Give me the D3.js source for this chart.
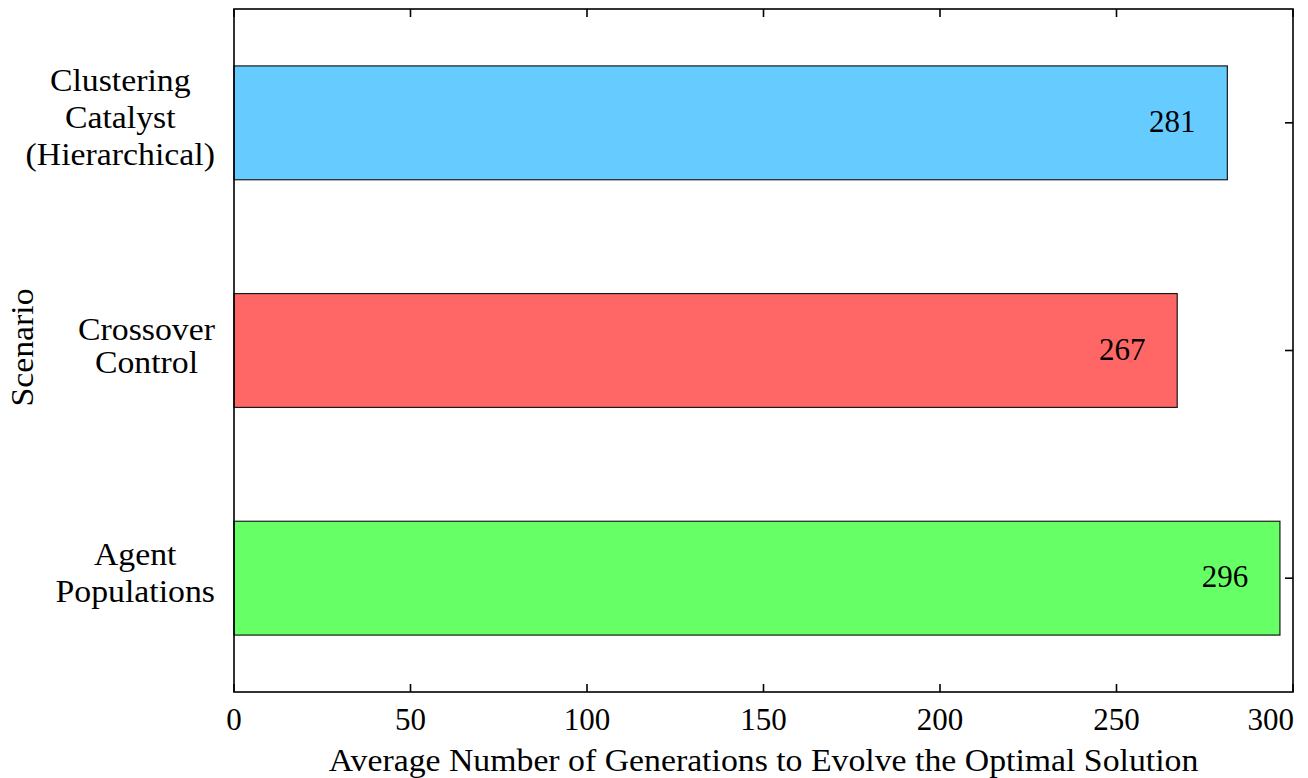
<!DOCTYPE html>
<html>
<head>
<meta charset="utf-8">
<script src="https://cdn.jsdelivr.net/npm/d3@7"></script>
<style>
  html, body { margin: 0; padding: 0; background: #fff; }
  svg text { font-family: "Liberation Serif", "DejaVu Serif", serif; fill: #000; }
</style>
</head>
<body>
<svg id="chart" width="1308" height="778"></svg>
<script>
// ---- data ----
const categories = [
  ["Clustering", "Catalyst", "(Hierarchical)"],
  ["Crossover", "Control"],
  ["Agent", "Populations"]
];
const values = [281.4, 267.2, 296.3];
const valueLabels = ["281", "267", "296"];
const barColors = ["#66ccff", "#ff6666", "#66ff66"];
const xTicks = [0, 50, 100, 150, 200, 250, 300];
const xTitle = "Average Number of Generations to Evolve the Optimal Solution";
const yTitle = "Scenario";

// ---- layout ----
const svg = d3.select("#chart");
const pLeft = 234, pRight = 1293, pTop = 9, pBottom = 692;
const fontSize = 31;
const stretch = 1.09; // widen serif words to match the reference typeface

const x = d3.scaleLinear().domain([0, 300]).range([pLeft, pRight]);
const y = d3.scaleBand().domain(d3.range(categories.length))
  .range([pTop, pBottom]).paddingInner(0.5).paddingOuter(0.25);

// bars
svg.append("g").selectAll("rect").data(values).join("rect")
  .attr("x", x(0))
  .attr("y", (d, i) => y(i))
  .attr("width", d => x(d) - x(0))
  .attr("height", y.bandwidth())
  .attr("fill", (d, i) => barColors[i])
  .attr("stroke", "#1a1a1a")
  .attr("stroke-width", 1.2);

// value labels
svg.append("g").selectAll("text").data(values).join("text")
  .attr("x", d => x(d) - 55)
  .attr("y", (d, i) => y(i) + y.bandwidth() / 2 + 9)
  .attr("text-anchor", "middle")
  .attr("font-size", fontSize)
  .text((d, i) => valueLabels[i]);

// frame
svg.append("rect")
  .attr("x", pLeft).attr("y", pTop)
  .attr("width", pRight - pLeft).attr("height", pBottom - pTop)
  .attr("fill", "none").attr("stroke", "#000").attr("stroke-width", 1.6);

// x ticks (top & bottom, inward)
const tickLen = 8;
const xt = svg.append("g");
xTicks.forEach(t => {
  xt.append("line").attr("x1", x(t)).attr("x2", x(t))
    .attr("y1", pBottom).attr("y2", pBottom - tickLen)
    .attr("stroke", "#000").attr("stroke-width", 1.6);
  xt.append("line").attr("x1", x(t)).attr("x2", x(t))
    .attr("y1", pTop).attr("y2", pTop + tickLen)
    .attr("stroke", "#000").attr("stroke-width", 1.6);
});
xt.selectAll("text").data(xTicks).join("text")
  .attr("x", (d, i) => i === xTicks.length - 1 ? x(d) + 1 : x(d))
  .attr("y", pBottom + 38)
  .attr("text-anchor", (d, i) => i === xTicks.length - 1 ? "end" : "middle")
  .attr("font-size", fontSize)
  .text(d => d);

// y ticks on right (inward)
svg.append("g").selectAll("line").data(values).join("line")
  .attr("x1", pRight).attr("x2", pRight - tickLen)
  .attr("y1", (d, i) => y(i) + y.bandwidth() / 2)
  .attr("y2", (d, i) => y(i) + y.bandwidth() / 2)
  .attr("stroke", "#000").attr("stroke-width", 1.6);

// category labels (multi-line, block right-aligned, lines centered)
const catG = svg.append("g");
categories.forEach((lines, i) => {
  const cy = y(i) + y.bandwidth() / 2;
  // line gap depends on descenders of the upper line (LaTeX shortstack-like)
  const gaps = lines.slice(1).map((l, k) => /[gjpqy()]/.test(lines[k]) ? 37 : 33);
  const span = d3.sum(gaps);
  let by = cy - span / 2 + 5.5;
  const texts = lines.map((l, k) => {
    const t = catG.append("text")
      .attr("text-anchor", "middle")
      .attr("font-size", fontSize)
      .datum(by)
      .text(l);
    if (k < gaps.length) by += gaps[k];
    return t;
  });
  const maxW = d3.max(texts, t => t.node().getComputedTextLength()) * stretch;
  const cx = 215 - maxW / 2;
  texts.forEach(t => t.attr("transform", d => `translate(${cx},${d}) scale(${stretch},1)`));
});

// axis titles
svg.append("text")
  .attr("transform", `translate(${(pLeft + pRight) / 2},771) scale(${stretch},1)`)
  .attr("text-anchor", "middle").attr("font-size", fontSize)
  .text(xTitle);

svg.append("text")
  .attr("transform", `translate(33, ${(pTop + pBottom) / 2 - 3}) rotate(-90) scale(${stretch},1)`)
  .attr("text-anchor", "middle").attr("font-size", fontSize)
  .text(yTitle);
</script>
</body>
</html>
